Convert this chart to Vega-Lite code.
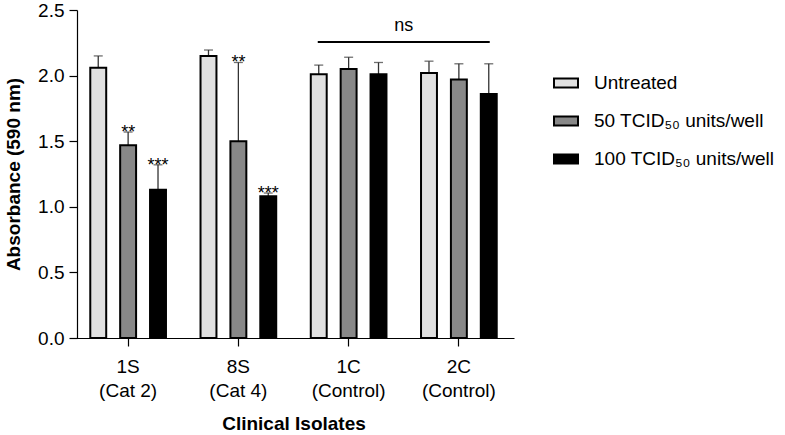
{
  "$schema": "https://vega.github.io/schema/vega-lite/v6.json",
  "width": 436,
  "height": 328,
  "autosize": {"type": "none"},
  "padding": {"left": 77, "top": 10, "right": 272, "bottom": 97},
  "background": "white",
  "config": {
    "view": {"stroke": null},
    "font": "Liberation Sans",
    "axis": {
      "domainColor": "black",
      "domainWidth": 1.2,
      "tickColor": "black",
      "tickWidth": 1.2,
      "tickSize": 8,
      "labelColor": "black",
      "labelFontSize": 19,
      "titleColor": "black",
      "titleFontSize": 19,
      "titleFontWeight": "bold",
      "grid": false
    }
  },
  "datasets": {
    "bars": [
      {"group": "1S (Cat 2)", "treatment": "Untreated", "value": 2.06, "err": 2.15, "sig": ""},
      {"group": "1S (Cat 2)", "treatment": "50 TCID₅₀ units/well", "value": 1.47, "err": 1.57, "sig": "**"},
      {"group": "1S (Cat 2)", "treatment": "100 TCID₅₀ units/well", "value": 1.13, "err": 1.32, "sig": "***"},
      {"group": "8S (Cat 4)", "treatment": "Untreated", "value": 2.15, "err": 2.195, "sig": ""},
      {"group": "8S (Cat 4)", "treatment": "50 TCID₅₀ units/well", "value": 1.5, "err": 2.1, "sig": "**"},
      {"group": "8S (Cat 4)", "treatment": "100 TCID₅₀ units/well", "value": 1.08, "err": 1.105, "sig": "***"},
      {"group": "1C (Control)", "treatment": "Untreated", "value": 2.01, "err": 2.08, "sig": ""},
      {"group": "1C (Control)", "treatment": "50 TCID₅₀ units/well", "value": 2.05, "err": 2.14, "sig": ""},
      {"group": "1C (Control)", "treatment": "100 TCID₅₀ units/well", "value": 2.01, "err": 2.1, "sig": ""},
      {"group": "2C (Control)", "treatment": "Untreated", "value": 2.02, "err": 2.11, "sig": ""},
      {"group": "2C (Control)", "treatment": "50 TCID₅₀ units/well", "value": 1.97, "err": 2.09, "sig": ""},
      {"group": "2C (Control)", "treatment": "100 TCID₅₀ units/well", "value": 1.86, "err": 2.09, "sig": ""}
    ],
    "ns": [
      {"from": "1C (Control)", "to": "2C (Control)", "y": 2.256, "ytext": 2.38, "label": "ns"}
    ]
  },
  "layer": [
    {
      "data": {"name": "bars"},
      "mark": {"type": "rule", "color": "#333333", "strokeWidth": 1.3},
      "encoding": {
        "x": {"field": "group", "type": "nominal", "sort": null},
        "xOffset": {"field": "treatment", "type": "nominal", "sort": null},
        "y": {"field": "value", "type": "quantitative"},
        "y2": {"field": "err"}
      }
    },
    {
      "data": {"name": "bars"},
      "mark": {"type": "tick", "color": "#333333", "size": 9, "thickness": 1.3, "orient": "horizontal"},
      "encoding": {
        "x": {"field": "group", "type": "nominal", "sort": null},
        "xOffset": {"field": "treatment", "type": "nominal", "sort": null},
        "y": {"field": "err", "type": "quantitative"}
      }
    },
    {
      "data": {"name": "bars"},
      "mark": {"type": "bar", "stroke": "black", "strokeWidth": 2},
      "encoding": {
        "x": {
          "field": "group",
          "type": "nominal",
          "sort": null,
          "scale": {
            "domain": ["1S (Cat 2)", "8S (Cat 4)", "1C (Control)", "2C (Control)"],
            "range": [-4, 437],
            "paddingInner": 0,
            "paddingOuter": 0
          },
          "axis": {
            "labelAngle": 0,
            "labelAlign": "center",
            "labelBaseline": "top",
            "labelExpr": "[split(datum.label, ' ')[0], substring(datum.label, indexof(datum.label, '('))]",
            "labelLineHeight": 24,
            "labelPadding": 11,
            "titlePadding": 14
          },
          "title": "Clinical Isolates"
        },
        "xOffset": {
          "field": "treatment",
          "type": "nominal",
          "sort": null,
          "scale": {
            "domain": ["Untreated", "50 TCID₅₀ units/well", "100 TCID₅₀ units/well"],
            "paddingInner": 0.467,
            "paddingOuter": 0.578
          }
        },
        "y": {
          "field": "value",
          "type": "quantitative",
          "scale": {"domain": [0, 2.5], "nice": false},
          "axis": {
            "values": [0, 0.5, 1, 1.5, 2, 2.5],
            "format": ".1f",
            "labelPadding": 5,
            "titlePadding": 14
          },
          "title": "Absorbance (590 nm)"
        },
        "fill": {
          "field": "treatment",
          "type": "nominal",
          "sort": null,
          "scale": {
            "domain": ["Untreated", "50 TCID₅₀ units/well", "100 TCID₅₀ units/well"],
            "range": ["#e0e0e0", "#888888", "#000000"]
          },
          "legend": {
            "title": null,
            "orient": "none",
            "legendX": 476,
            "legendY": 60,
            "symbolType": "M-1,-0.38H1V0.38H-1Z",
            "symbolSize": 576,
            "symbolStrokeColor": "black",
            "symbolStrokeWidth": 2,
            "symbolOpacity": 1,
            "labelFontSize": 19,
            "labelColor": "black",
            "labelOffset": 15,
            "labelLimit": 300,
            "rowPadding": 15
          }
        }
      }
    },
    {
      "data": {"name": "bars"},
      "transform": [{"filter": "datum.sig != ''"}],
      "mark": {"type": "text", "fontSize": 18, "baseline": "alphabetic", "dy": 6, "color": "black"},
      "encoding": {
        "x": {"field": "group", "type": "nominal", "sort": null},
        "xOffset": {"field": "treatment", "type": "nominal", "sort": null},
        "y": {"field": "err", "type": "quantitative"},
        "text": {"field": "sig"}
      }
    },
    {
      "data": {"name": "ns"},
      "mark": {"type": "rule", "color": "black", "strokeWidth": 2},
      "encoding": {
        "x": {"field": "from", "type": "nominal", "bandPosition": 0.22},
        "x2": {"field": "to", "bandPosition": 0.78},
        "y": {"field": "y", "type": "quantitative"}
      }
    },
    {
      "data": {"name": "ns"},
      "mark": {"type": "text", "fontSize": 18, "baseline": "middle", "color": "black"},
      "encoding": {
        "x": {"field": "from", "type": "nominal", "bandPosition": 1},
        "y": {"field": "ytext", "type": "quantitative"},
        "text": {"field": "label"}
      }
    }
  ]
}
